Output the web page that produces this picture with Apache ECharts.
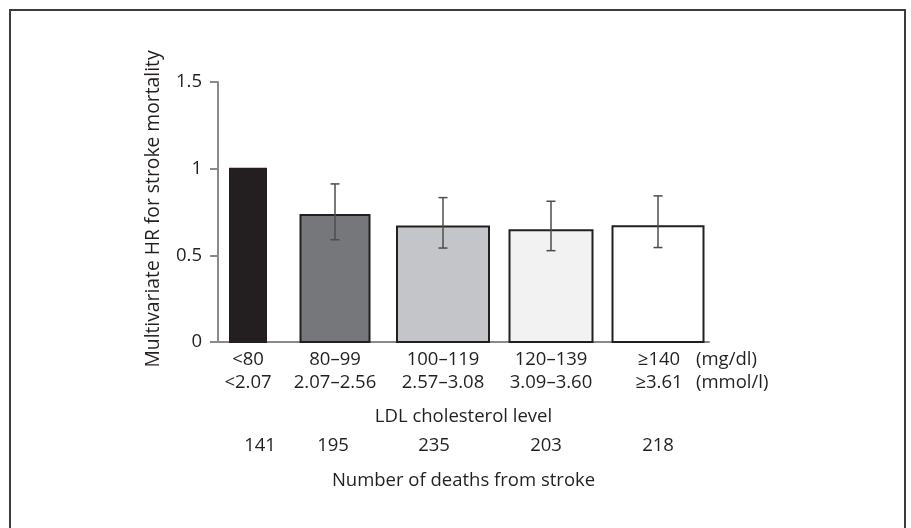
<!DOCTYPE html>
<html>
<head>
<meta charset="utf-8">
<script src="https://cdn.jsdelivr.net/npm/echarts@6/dist/echarts.min.js"></script>
<style>html,body{margin:0;padding:0;background:#fff}#c{width:911px;height:528px}</style>
</head>
<body>
<div id="c"></div>
<script>
// ---- data ----
const categoriesMg = ['<80', '80–99', '100–119', '120–139', '≥140'];
const categoriesMmol = ['<2.07', '2.07–2.56', '2.57–3.08', '3.09–3.60', '≥3.61'];
const hr = [1.0, 0.732, 0.667, 0.645, 0.668];
const ciLow = [null, 0.590, 0.542, 0.527, 0.545];
const ciHigh = [null, 0.912, 0.833, 0.812, 0.843];
const deaths = [141, 195, 235, 203, 218];

// ---- layout / style ----
const FONT = 'Open Sans';
const TXT = '#231f20';
const AXIS = '#8a8a8a';
const BAR_FILL = ['#231f20', '#76777a', '#c4c5c8', '#f1f2f1', '#ffffff'];
const BAR_WIDTH = [36, 69, 92, 83, 91];
const BAR_NUDGE = [21, 0, 0, 0, -1];
const DEATH_NUDGE = [33, -2, -9, -5, -1];
const FS = 18.5;

const chart = echarts.init(document.getElementById('c'), null, {renderer: 'canvas'});

const barData = hr.map((v, i) => [i, v]);
const errData = hr.map((v, i) => [i, ciLow[i], ciHigh[i]]).filter(d => d[1] != null);

const deathRich = {};
DEATH_NUDGE.forEach((n, i) => {
  deathRich['d' + i] = {
    fontSize: FS, color: TXT, fontFamily: FONT,
    padding: n >= 0 ? [0, 0, 0, 2 * n] : [0, -2 * n, 0, 0]
  };
});

const option = {
  animation: false,
  backgroundColor: '#fff',
  textStyle: {fontFamily: FONT, color: TXT},
  graphic: [{
    type: 'rect', shape: {x: 10, y: 10, width: 895, height: 560},
    style: {fill: 'none', stroke: '#3c3c3c', lineWidth: 2}, silent: true, z: -1
  }],
  grid: [
    {left: 173, top: 82, width: 540, height: 260},
    {left: 218, top: 82, width: 491, height: 260}
  ],
  xAxis: [
    {
      gridIndex: 0, type: 'category', data: categoriesMg, position: 'bottom',
      axisLine: {show: false}, axisTick: {show: false},
      axisLabel: {
        interval: 0, margin: 6, fontSize: FS, lineHeight: 23, color: TXT, fontFamily: FONT,
        formatter: (v, i) => i === 0
          ? '{a|' + v + '}\n{a|' + categoriesMmol[i] + '}'
          : v + '\n' + categoriesMmol[i],
        rich: {a: {padding: [0, 0, 0, 42], fontSize: FS, lineHeight: 23, color: TXT, fontFamily: FONT}}
      }
    },
    {
      gridIndex: 0, type: 'category', data: deaths.map(String), position: 'bottom',
      axisLine: {show: false}, axisTick: {show: false},
      axisLabel: {
        interval: 0, margin: 94, fontSize: FS, color: TXT, fontFamily: FONT,
        formatter: (v, i) => '{d' + i + '|' + v + '}',
        rich: deathRich
      }
    },
    {
      gridIndex: 1, type: 'value', min: 0, max: 1, position: 'bottom',
      axisLine: {show: true, lineStyle: {color: AXIS, width: 2}},
      axisTick: {show: false}, axisLabel: {show: false}, splitLine: {show: false},
      name: '(mg/dl)\n(mmol/l)', nameLocation: 'end', nameGap: -13,
      nameTextStyle: {fontSize: FS, lineHeight: 23, color: TXT, fontFamily: FONT,
        align: 'left', verticalAlign: 'top', padding: [6, 0, 0, 0]}
    },
    {
      gridIndex: 1, type: 'value', min: 0, max: 1, position: 'bottom',
      axisLine: {show: false}, axisTick: {show: false}, axisLabel: {show: false}, splitLine: {show: false},
      name: 'LDL cholesterol level', nameLocation: 'middle', nameGap: 65,
      nameTextStyle: {fontSize: FS, color: TXT, fontFamily: FONT}
    },
    {
      gridIndex: 1, type: 'value', min: 0, max: 1, position: 'bottom',
      axisLine: {show: false}, axisTick: {show: false}, axisLabel: {show: false}, splitLine: {show: false},
      name: 'Number of deaths from stroke', nameLocation: 'middle', nameGap: 129,
      nameTextStyle: {fontSize: FS, color: TXT, fontFamily: FONT}
    }
  ],
  yAxis: [
    {gridIndex: 0, type: 'value', min: 0, max: 1.5, interval: 0.5, show: false},
    {
      gridIndex: 1, type: 'value', min: 0, max: 1.5, interval: 0.5,
      axisLine: {show: true, lineStyle: {color: AXIS, width: 2}},
      axisTick: {show: true, length: 8, lineStyle: {color: AXIS, width: 2}},
      axisLabel: {margin: 16, fontSize: FS, color: TXT, fontFamily: FONT},
      splitLine: {show: false},
      name: 'Multivariate HR for stroke mortality', nameLocation: 'middle', nameGap: 55,
      nameTextStyle: {fontSize: 19.3, color: TXT, fontFamily: FONT, padding: [0, 0, 0, 6]}
    }
  ],
  series: [
    {
      type: 'custom', xAxisIndex: 0, yAxisIndex: 0, data: barData, z: 2,
      renderItem: (params, api) => {
        const i = api.value(0);
        const top = api.coord([i, api.value(1)]);
        const base = api.coord([i, 0]);
        const cx = top[0] + BAR_NUDGE[i];
        const w = BAR_WIDTH[i];
        return {
          type: 'rect',
          shape: {x: cx - w / 2, y: top[1], width: w, height: base[1] - top[1]},
          style: {fill: BAR_FILL[i], stroke: '#231f20', lineWidth: 2}
        };
      }
    },
    {
      type: 'custom', xAxisIndex: 0, yAxisIndex: 0, data: errData, z: 3,
      renderItem: (params, api) => {
        const i = api.value(0);
        const lo = api.coord([i, api.value(1)]);
        const hi = api.coord([i, api.value(2)]);
        const cx = lo[0] + BAR_NUDGE[i];
        const hw = 4.5;
        const st = {stroke: '#4d4d4d', lineWidth: 1.5};
        return {
          type: 'group',
          children: [
            {type: 'line', shape: {x1: cx, y1: lo[1], x2: cx, y2: hi[1]}, style: st},
            {type: 'line', shape: {x1: cx - hw, y1: lo[1], x2: cx + hw, y2: lo[1]}, style: st},
            {type: 'line', shape: {x1: cx - hw, y1: hi[1], x2: cx + hw, y2: hi[1]}, style: st}
          ]
        };
      }
    }
  ]
};
chart.setOption(option);
</script>
</body>
</html>
